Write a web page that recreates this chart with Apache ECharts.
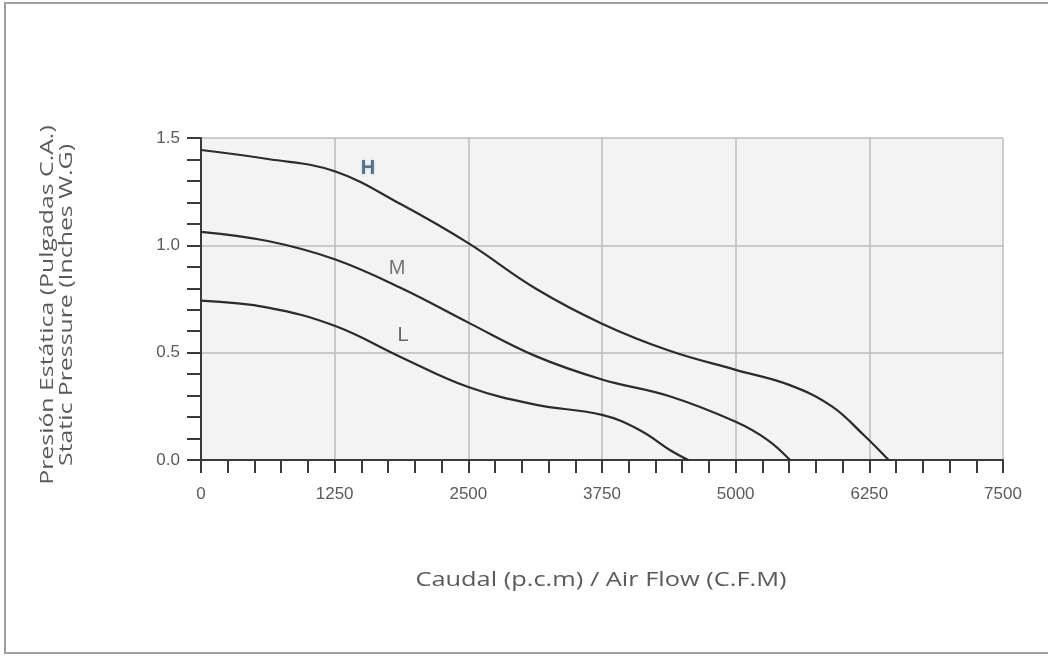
<!DOCTYPE html>
<html>
<head>
<meta charset="utf-8">
<script src="https://cdn.jsdelivr.net/npm/echarts@6/dist/echarts.min.js"></script>
<style>
  html, body { margin: 0; padding: 0; background: #fff; }
  #chart1 { width: 1048px; height: 656px; }
</style>
</head>
<body>
<div id="chart1"></div>
<script>
    // datos (caudal en CFM, presion en pulgadas)
    var flowH = [0, 625, 1250, 1875, 2500, 3125, 3750, 4375, 5000, 5500, 5900, 6200, 6430];
    var presH = [1.444, 1.402, 1.345, 1.19, 1.01, 0.80, 0.635, 0.51, 0.42, 0.35, 0.25, 0.115, 0];

    var flowM = [0, 625, 1250, 1875, 2500, 3125, 3750, 4375, 5000, 5300, 5508];
    var presM = [1.063, 1.02, 0.935, 0.80, 0.64, 0.485, 0.375, 0.298, 0.178, 0.093, 0];

    var flowL = [0, 625, 1250, 1875, 2500, 3125, 3750, 4100, 4400, 4557];
    var presL = [0.742, 0.71, 0.625, 0.478, 0.34, 0.258, 0.21, 0.14, 0.042, 0];

    // etiquetas de las curvas
    var curveNames = ['H', 'M', 'L'];
    var labelFlow = [1562, 1833, 1889];
    var labelPres = [1.36, 0.894, 0.582];
    var labelColors = ['#3b5466', '#555555', '#444444'];

    var xTicks = [0, 1250, 2500, 3750, 5000, 6250, 7500];
    var yTicks = [0, 0.5, 1.0, 1.5];

    var xTitle = 'Caudal (p.c.m) / Air Flow (C.F.M)';
    var yTitle = ['Presión Estática (Pulgadas C.A.)', 'Static Pressure (Inches W.G)'];

    var narrow = 'Liberation Sans, sans-serif';

    function pairs(xs, ys) {
        return xs.map(function (x, i) { return [x, ys[i]]; });
    }

    function curve(name, xs, ys) {
        return {
            name: name,
            type: 'line',
            data: pairs(xs, ys),
            smooth: 0.4,
            showSymbol: false,
            lineStyle: { color: '#2b2b2b', width: 2.2 },
            silent: true
        };
    }

    // titulos de ejes estirados como en el original
    function title(text, x, y, rot, size, sx) {
        return {
            type: 'text',
            x: x, y: y,
            rotation: rot,
            scaleX: sx,
            silent: true,
            style: {
                text: text,
                fill: '#5a5a5a',
                font: size + 'px "Open Sans"',
                align: 'center',
                verticalAlign: 'middle'
            }
        };
    }

    var option = {
        backgroundColor: '#ffffff',
        animation: false,
        grid: {
            left: 201, right: 45, top: 138, bottom: 196,
            show: true,
            backgroundColor: '#f3f3f3',
            borderWidth: 0
        },
        graphic: [{
            type: 'rect',
            shape: { x: 5, y: 3, width: 1060, height: 650 },
            style: { fill: 'none', stroke: '#a0a0a0', lineWidth: 2 },
            silent: true
        },
            title(xTitle, 601, 580, 0, 20, 1.27),
            title(yTitle[0], 48, 305, Math.PI / 2, 18, 1.38),
            title(yTitle[1], 67, 305, Math.PI / 2, 18, 1.38)
        ],
        xAxis: {
            type: 'value',
            min: xTicks[0],
            max: xTicks[xTicks.length - 1],
            interval: 1250,
            axisLine: { show: true, lineStyle: { color: '#3a3a3a', width: 2 } },
            axisTick: { show: true, length: 13, lineStyle: { color: '#3a3a3a', width: 2 } },
            minorTick: { show: true, splitNumber: 5, length: 13, lineStyle: { color: '#3a3a3a', width: 2 } },
            axisLabel: {
                color: '#5a5a5a', fontSize: 17, margin: 26, fontFamily: narrow,
                formatter: function (v) { return String(v); }
            },
            splitLine: { show: true, lineStyle: { color: '#bdbdbd', width: 1.5 } }
        },
        yAxis: {
            type: 'value',
            min: yTicks[0],
            max: yTicks[yTicks.length - 1],
            interval: 0.5,
            axisLine: { show: true, lineStyle: { color: '#3a3a3a', width: 2 } },
            axisTick: { show: true, length: 14, lineStyle: { color: '#3a3a3a', width: 2 } },
            minorTick: { show: true, splitNumber: 5, length: 14, lineStyle: { color: '#3a3a3a', width: 2 } },
            axisLabel: {
                color: '#5a5a5a', fontSize: 17, margin: 21, fontFamily: narrow,
                formatter: function (v) { return v.toFixed(1); }
            },
            splitLine: { show: true, lineStyle: { color: '#bdbdbd', width: 1.5 } }
        },
        series: [
            curve('H', flowH, presH),
            curve('M', flowM, presM),
            curve('L', flowL, presL),
            {
                name: 'etiquetas',
                type: 'scatter',
                symbolSize: 0,
                silent: true,
                data: curveNames.map(function (n, i) {
                    return {
                        value: [labelFlow[i], labelPres[i]],
                        label: {
                            show: true,
                            position: 'inside',
                            formatter: n,
                            color: labelColors[i],
                            fontSize: 20,
                            fontWeight: i === 0 ? 'bold' : 'normal',
                            fontFamily: narrow,
                            textShadowColor: i === 0 ? '#9cc8e8' : 'transparent',
                            textShadowBlur: i === 0 ? 3 : 0
                        }
                    };
                })
            }
        ]
    };

    var myChart = echarts.init(document.getElementById('chart1'));
    myChart.setOption(option);
</script>
</body>
</html>
